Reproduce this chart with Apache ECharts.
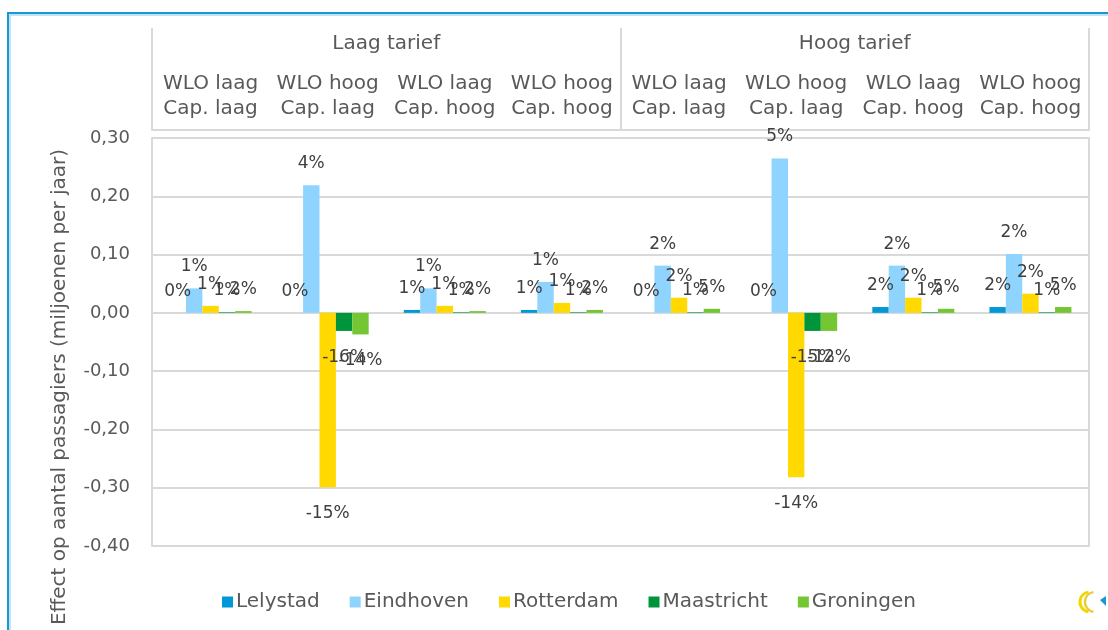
<!DOCTYPE html>
<html>
<head>
<meta charset="utf-8">
<script src="https://cdn.jsdelivr.net/npm/echarts@6/dist/echarts.min.js"></script>
<style>
  html, body { margin: 0; padding: 0; background: #fff; }
  #chart { width: 1108px; height: 630px; }
</style>
</head>
<body>
<div id="chart"></div>
<script>
const scenarios = ['WLO laag\nCap. laag', 'WLO hoog\nCap. laag', 'WLO laag\nCap. hoog', 'WLO hoog\nCap. hoog',
                   'WLO laag\nCap. laag', 'WLO hoog\nCap. laag', 'WLO laag\nCap. hoog', 'WLO hoog\nCap. hoog'];
const tariffs = ['Laag tarief', 'Hoog tarief'];
const airports = ['Lelystad', 'Eindhoven', 'Rotterdam', 'Maastricht', 'Groningen'];

const lelystad   = [0, 0, 0.005, 0.005, 0, 0, 0.010, 0.010];
const eindhoven  = [0.042, 0.219, 0.042, 0.053, 0.081, 0.265, 0.081, 0.101];
const rotterdam  = [0.012, -0.299, 0.012, 0.017, 0.026, -0.282, 0.026, 0.033];
const maastricht = [0.001, -0.031, 0.001, 0.001, 0.001, -0.031, 0.001, 0.001];
const groningen  = [0.003, -0.037, 0.003, 0.005, 0.007, -0.031, 0.007, 0.010];

const lelystadPct   = ['0%', '0%', '1%', '1%', '0%', '0%', '2%', '2%'];
const eindhovenPct  = ['1%', '4%', '1%', '1%', '2%', '5%', '2%', '2%'];
const rotterdamPct  = ['1%', '-15%', '1%', '1%', '2%', '-14%', '2%', '2%'];
const maastrichtPct = ['1%', '-16%', '1%', '1%', '1%', '-15%', '1%', '1%'];
const groningenPct  = ['2%', '-14%', '2%', '2%', '5%', '-12%', '5%', '5%'];

const yTicks = { min: -0.4, max: 0.3, interval: 0.1 };
const yName = 'Effect op aantal passagiers (miljoenen per jaar)';

const colors = ['#0098D5', '#8ED4FF', '#FFD900', '#00953A', '#74C632'];
const values = [lelystad, eindhoven, rotterdam, maastricht, groningen];
const pcts = [lelystadPct, eindhovenPct, rotterdamPct, maastrichtPct, groningenPct];

const FONT = 'DejaVu Sans';
const GRID = '#D9D9D9';
const TXT = '#595959';

const series = airports.map((name, s) => ({
  name: name,
  type: 'bar',
  xAxisIndex: 0,
  yAxisIndex: 0,
  barGap: '0%',
  barCategoryGap: '30%',
  itemStyle: { color: colors[s] },
  data: values[s].map(v => ({
    value: v,
    label: v < 0 ? { position: 'bottom', distance: 18 } : { position: 'top', distance: 13 }
  })),
  label: {
    show: true,
    color: '#404040',
    fontFamily: FONT,
    fontSize: 17,
    formatter: p => pcts[s][p.dataIndex]
  }
}));

const chart = echarts.init(document.getElementById('chart'));
chart.setOption({
  animation: false,
  textStyle: { fontFamily: FONT },
  grid: { left: 152, right: 19, top: 138, bottom: 84 },
  legend: {
    data: airports,
    left: 222,
    top: 592,
    icon: 'rect',
    itemWidth: 11,
    itemHeight: 11,
    itemGap: 30,
    padding: 0,
    textStyle: { fontFamily: FONT, fontSize: 20, color: TXT, padding: [0, 0, 0, -2] }
  },
  xAxis: [
    {
      type: 'category',
      position: 'top',
      data: scenarios,
      axisLine: { show: false, onZero: false },
      axisTick: { show: false },
      axisLabel: { fontFamily: FONT, fontSize: 20, color: TXT, lineHeight: 25, margin: 17, interval: 0 }
    },
    {
      type: 'category',
      position: 'top',
      offset: 8,
      data: tariffs,
      axisLine: { show: true, onZero: false, lineStyle: { color: GRID, width: 2 } },
      axisTick: { show: true, length: 102, lineStyle: { color: GRID, width: 2 } },
      axisLabel: { fontFamily: FONT, fontSize: 20, color: TXT, margin: 76 }
    }
  ],
  yAxis: [
    {
      type: 'value',
      min: yTicks.min,
      max: yTicks.max,
      interval: yTicks.interval,
      axisLine: { show: true, onZero: false, lineStyle: { color: GRID, width: 2 } },
      axisTick: { show: false },
      splitLine: { show: true, lineStyle: { color: GRID, width: 2 } },
      axisLabel: {
        fontFamily: FONT, fontSize: 18, color: TXT, margin: 22,
        formatter: v => v.toFixed(2).replace('.', ',')
      }
    },
    {
      type: 'value',
      position: 'right',
      min: yTicks.min,
      max: yTicks.max,
      interval: yTicks.interval,
      axisLine: { show: true, onZero: false, lineStyle: { color: GRID, width: 2 } },
      axisTick: { show: false },
      axisLabel: { show: false },
      splitLine: { show: false }
    }
  ],
  graphic: [
    { type: 'rect', shape: { x: 8, y: 13, width: 1200, height: 700 }, style: { fill: 'none', stroke: '#1B96D2', lineWidth: 2 }, silent: true },
    { type: 'rect', shape: { x: 10, y: 15, width: 1200, height: 700 }, style: { fill: 'none', stroke: '#A9DDF3', lineWidth: 1.5 }, silent: true },
    { type: 'text', x: 60, y: 387, rotation: Math.PI / 2,
      style: { text: yName, fontFamily: FONT, fontSize: 20, fill: TXT, align: 'center', verticalAlign: 'middle' } },
    { type: 'arc', shape: { cx: 1090, cy: 602, r: 10, startAngle: Math.PI * 0.55, endAngle: Math.PI * 1.45 }, style: { stroke: '#F2D600', lineWidth: 3, fill: 'none' } },
    { type: 'arc', shape: { cx: 1095, cy: 602, r: 10, startAngle: Math.PI * 0.55, endAngle: Math.PI * 1.45 }, style: { stroke: '#E8CE3A', lineWidth: 2.5, fill: 'none' } },
    { type: 'polygon', shape: { points: [[1100, 600], [1106, 596], [1106, 606]] }, style: { fill: '#1B96D2' } }
  ],
  series: series
});
</script>
</body>
</html>
